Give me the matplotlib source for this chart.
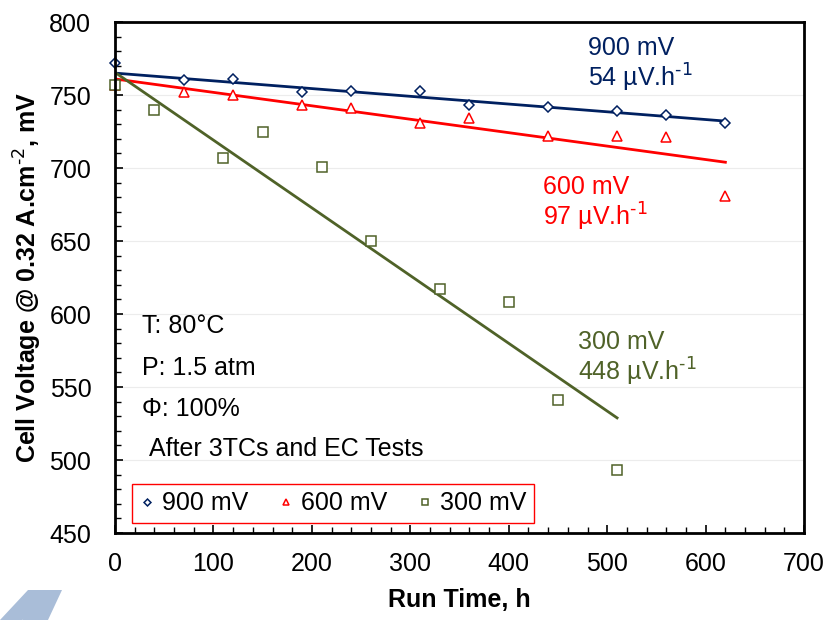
import numpy as np
import matplotlib
matplotlib.use("Agg")
from matplotlib import pyplot as plt
from matplotlib.ticker import MultipleLocator
from matplotlib.patches import Polygon

plt.rcParams['font.family'] = ['Liberation Sans', 'DejaVu Sans']
plt.rcParams['mathtext.default'] = 'regular'

# data
t900 = [0, 70, 120, 190, 240, 310, 360, 440, 510, 560, 620]
v900 = [772, 760, 761, 752, 753, 753, 743, 742, 739, 736, 731]
t600 = [0, 70, 120, 190, 240, 310, 360, 440, 510, 560, 620]
v600 = [757, 752, 750, 743, 741, 731, 734, 722, 722, 721, 681]
t300 = [0, 40, 110, 150, 210, 260, 330, 400, 450, 510]
v300 = [757, 740, 707, 725, 701, 650, 617, 608, 541, 493]

# linear trend lines: intercept (mV), slope (mV/h), end time (h)
fit_b = [765, 761, 765.5]
fit_m = [-0.053, -0.092, -0.464]
fit_end = [620, 620, 510]

labels = ["900 mV", "600 mV", "300 mV"]
rates = ["54", "97", "448"]
colors = ["#002060", "#FF0000", "#4F6228"]
markers = ["D", "^", "s"]

fig = plt.figure(figsize=(8.29, 6.2), dpi=100)
ax = fig.add_axes([0.1387, 0.1403, 0.8313, 0.8242])

for t, v, c, m, lab, ms in zip([t900, t600, t300], [v900, v600, v300], colors, markers, labels, [5, 6.5, 7]):
    ax.plot(t, v, linestyle="none", marker=m, ms=ms, mfc="white", mec=c, mew=1.1,
            label=lab, zorder=3, clip_on=False)

for b, m, te, c in zip(fit_b, fit_m, fit_end, colors):
    tt = np.array([0, te])
    ax.plot(tt, b + m * tt, color=c, lw=2, zorder=2)

ax.set_xlim(0, 700)
ax.set_ylim(450, 800)
ax.xaxis.set_major_locator(MultipleLocator(100))
ax.xaxis.set_minor_locator(MultipleLocator(20))
ax.yaxis.set_major_locator(MultipleLocator(50))
ax.yaxis.set_minor_locator(MultipleLocator(10))
ax.tick_params(which="major", direction="in", length=6, width=1.2, labelsize=18, pad=14)
ax.tick_params(which="minor", direction="in", length=4, width=1)
ax.tick_params(axis="y", pad=17)
for s in ax.spines.values():
    s.set_linewidth(2)
    s.set_zorder(4)
ax.grid(axis="y", color="#ececec", lw=0.8)
ax.set_axisbelow(True)

ax.set_xlabel("Run Time, h", fontsize=18, fontweight="bold", labelpad=8)
ax.set_ylabel(r"Cell Voltage @ 0.32 A.cm$^{\text{-2}}$, mV", fontsize=18, fontweight="bold", labelpad=4)

# annotations
ann_x = [480, 435, 470.5]
ann_y = [782, 687, 581]
for x, y, lab, r, c in zip(ann_x, ann_y, labels, rates, colors):
    ax.text(x, y, lab, color=c, fontsize=18, va="center")
    ax.text(x, y - 20.5, r + r" µV.h$^{\text{-1}}$", color=c, fontsize=18, va="center")

cond = ["T: 80°C", "P: 1.5 atm", "Φ: 100%"]
cond_y = [592, 563, 535]
for s, y in zip(cond, cond_y):
    ax.text(27.4, y, s, fontsize=18, va="center")
ax.text(34.6, 507.5, "After 3TCs and EC Tests", fontsize=18, va="center")

leg = ax.legend(loc="lower left", bbox_to_anchor=(0.025, 0.02), ncol=3, fontsize=18,
                frameon=True, fancybox=False, edgecolor="#FF0000", framealpha=1,
                handlelength=0.6, handletextpad=0.3, columnspacing=1.2,
                borderpad=0.3, borderaxespad=0, markerscale=0.7)
leg.get_frame().set_linewidth(1)

# partial logo in the bottom-left corner
logo_color = "#a9bdd8"
fig.patches.append(Polygon([[0, 0], [22, 0], [50, 30], [28, 30]], closed=True,
                           transform=None, facecolor=logo_color, edgecolor="none"))
fig.patches.append(Polygon([[22, 0], [48, 0], [62, 30], [40, 30]], closed=True,
                           transform=None, facecolor=logo_color, edgecolor="none"))

fig.savefig("out.png", dpi=100)
